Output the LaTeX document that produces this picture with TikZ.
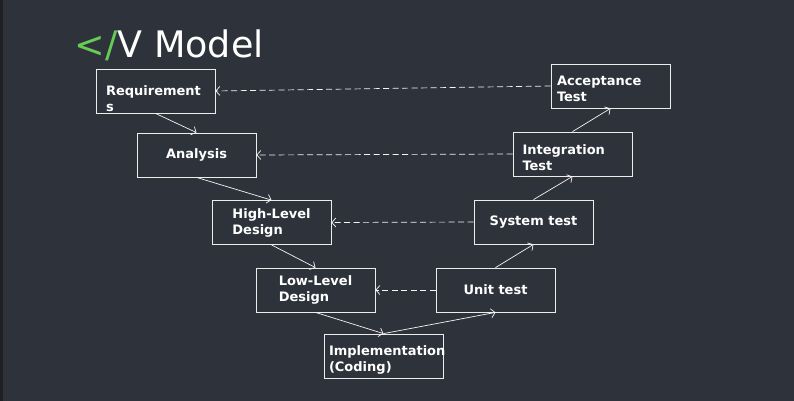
\documentclass[tikz,border=0pt]{standalone}
\usepackage{fontspec}
\setmainfont{DejaVu Sans}
\usetikzlibrary{arrows.meta}
\definecolor{slide-bg}{HTML}{2E323B}
\definecolor{slide-edge}{HTML}{1F2024}
\definecolor{tag-green}{HTML}{66CC55}
\colorlet{stage-line}{white!85!gray}
\tikzset{
  stage-box/.style={draw=stage-line, line width=0.8pt, text=white, align=left,
    minimum width=119pt, minimum height=44pt, inner sep=2pt,
    font=\fontsize{13}{16}\selectfont\bfseries},
  text drop/.style={text height=14pt+#1pt, text depth=21pt-#1pt},
  stage-path/.style={draw=white!92!gray, line width=0.7pt, -{Straight Barb[length=4pt,width=9pt]}},
  verify-path/.style={stage-path, dash pattern=on 6pt off 3.5pt},
}

\begin{document}
\begin{tikzpicture}[x=1pt, y=-1pt]
% slide background
\fill[slide-bg] (0,0) rectangle (794,401);
\fill[slide-edge] (0,0) rectangle (3,401);
\useasboundingbox (0,0) rectangle (794,401);
% title
\node[anchor=base west, inner sep=0pt, text=white, font=\fontsize{36.5}{44}\selectfont] (title) at (74.5,58) {\textcolor{tag-green}{</}V Model};
% left arm: specification
\node[stage-box, text width=99pt, text drop=8] (req) at (155.5,91) {Requirement\\s};
\node[stage-box] (ana) at (196.5,155) {Analysis};
\node[stage-box] (hld) at (271.5,222.5) {High-Level\\Design};
\node[stage-box] (lld) at (315.5,290) {Low-Level\\Design};
% bottom
\node[stage-box, text width=109pt, text drop=3] (impl) at (383.5,356) {Implementation\\(Coding)};
% right arm: testing
\node[stage-box] (unit) at (495.5,290) {Unit test};
\node[stage-box] (sys) at (533.5,222) {System test};
\node[stage-box, text width=100pt, text drop=4] (integ) at (572.5,154) {Integration\\Test};
\node[stage-box, text width=107pt, text drop=3] (acc) at (610.5,86) {Acceptance\\Test};
% flow down and up
\draw[stage-path] (req.south) -- (ana.north);
\draw[stage-path] (ana.south) -- (hld.north);
\draw[stage-path] (hld.south) -- (lld.north);
\draw[stage-path] (lld.south) -- (impl.north);
\draw[stage-path] (impl.north) -- (unit.south);
\draw[stage-path] (unit.north) -- (sys.south);
\draw[stage-path] (sys.north) -- (integ.south);
\draw[stage-path] (integ.north) -- (acc.south);
% verification links
\draw[verify-path] (acc.west) -- (req.east);
\draw[verify-path] (integ.west) -- (ana.east);
\draw[verify-path] (sys.west) -- (hld.east);
\draw[verify-path] (unit.west) -- (lld.east);
\end{tikzpicture}
\end{document}
